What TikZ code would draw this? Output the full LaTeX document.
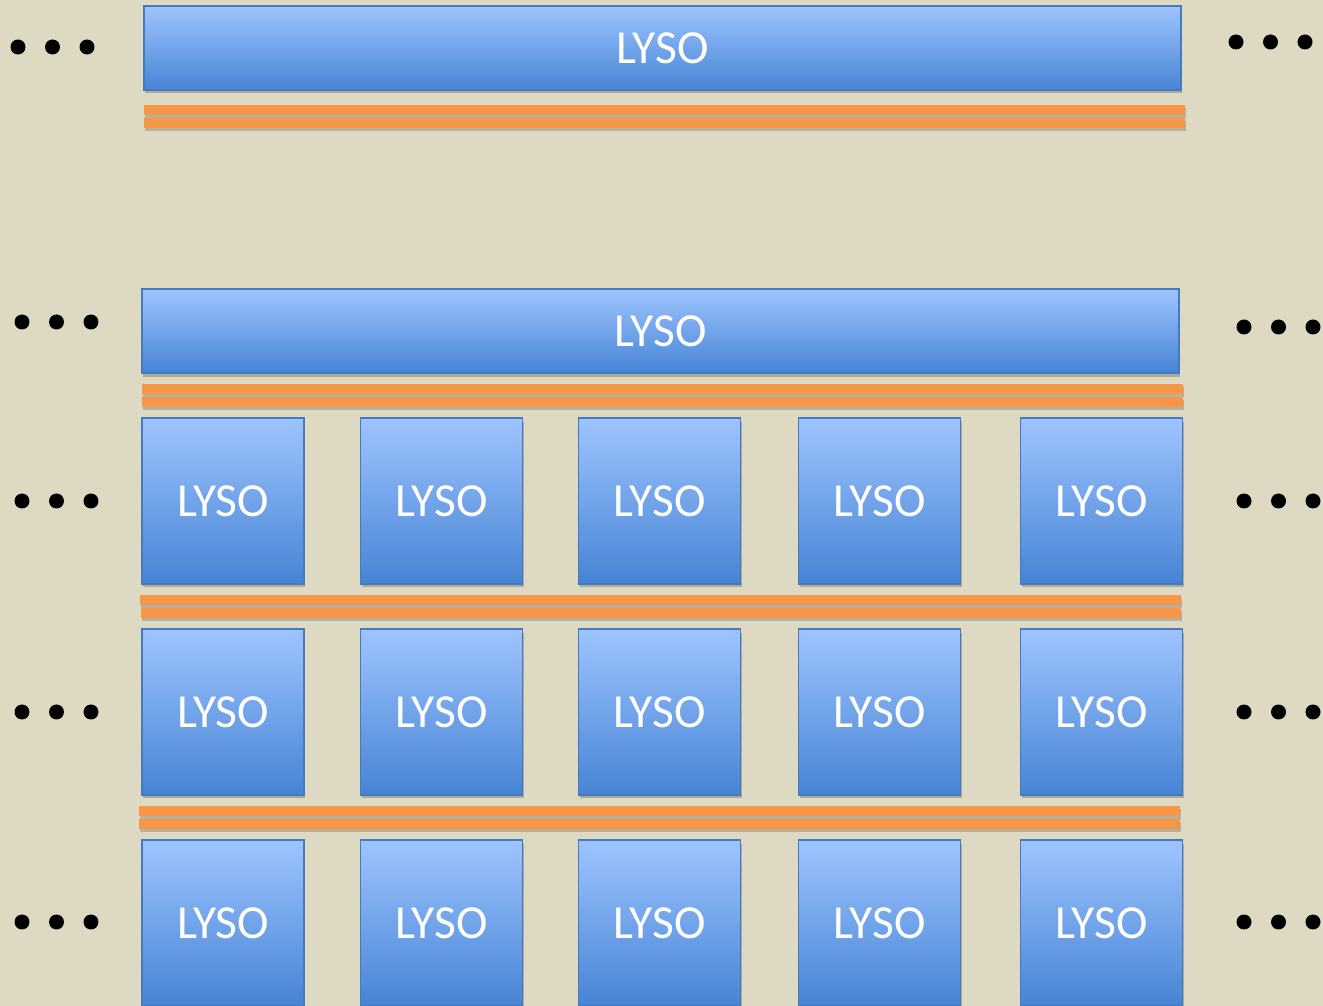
\documentclass[tikz,border=0pt]{standalone}
\usepackage{fontspec}
\setmainfont{Carlito}
\usetikzlibrary{shadows}
\definecolor{lysotop}{RGB}{158,196,255}
\definecolor{lysobot}{RGB}{70,132,212}
\definecolor{lysoedge}{RGB}{70,122,190}
\definecolor{glueorange}{RGB}{247,150,70}
\definecolor{bgtan}{RGB}{221,217,195}

\tikzset{
  crystal/.style={draw=lysoedge, line width=0.8pt, top color=lysotop,
    middle color=lysotop!75!lysobot, bottom color=lysobot, text=white,
    font=\fontsize{27}{32}\selectfont, inner sep=0pt,
    drop shadow={shadow xshift=0.6pt, shadow yshift=-2pt, opacity=0.22, fill=black}},
  pixel/.style={crystal, minimum width=3.24cm, minimum height=3.32cm},
  slab/.style={crystal, minimum width=20.74cm, minimum height=1.68cm},
  glue/.style={fill=glueorange,
    drop shadow={shadow xshift=0.6pt, shadow yshift=-1.5pt, opacity=0.18, fill=black}},
  dot/.style={circle, fill=black, inner sep=0pt, minimum size=0.3cm}
}

\begin{document}
\begin{tikzpicture}[x=0.02cm, y=-0.02cm]
  \fill[bgtan] (0,0) rectangle (1323,1006);
  \useasboundingbox (0,0) rectangle (1323,1006);

  % long slabs
  \node[slab] (slab-top) at (662.5,48) {LYSO};
  \node[slab] (slab-mid) at (660.5,331) {LYSO};

  % glue layers
  \fill[glue] (144,105) rectangle (1185,115);
  \fill[glue] (144,118) rectangle (1185,128);
  \fill[glue] (142,384) rectangle (1183,394);
  \fill[glue] (142,397) rectangle (1183,407);
  \fill[glue] (140,595) rectangle (1181,605);
  \fill[glue] (141,608) rectangle (1181,618);
  \fill[glue] (139,806) rectangle (1180,816);
  \fill[glue] (139,819) rectangle (1180,829);

  % pixel rows
  \foreach \r/\y in {1/501,2/712,3/923}
    \foreach \c/\x in {1/223,2/441.5,3/659.5,4/879.5,5/1101.5}
      \node[pixel] (px-\r-\c) at (\x,\y) {LYSO};

  % continuation dots
  \foreach \r/\yl/\yr/\xl/\xr in {a/47/42/18/1236,b/322/327/22/1244,c/501/501/22/1244,d/712/712/22/1244,e/922/922/22/1244}
    \foreach \k in {0,1,2}{
      \node[dot] (dl-\r-\k) at ({\xl+34.5*\k},\yl) {};
      \node[dot] (dr-\r-\k) at ({\xr+34.5*\k},\yr) {};
    }
\end{tikzpicture}
\end{document}
